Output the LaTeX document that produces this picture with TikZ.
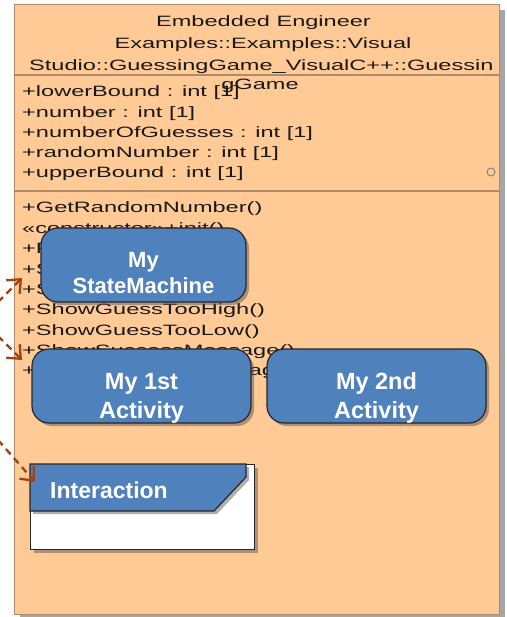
\documentclass[tikz,border=0pt]{standalone}
\usepackage{fontspec}
\setmainfont{Liberation Sans}
\newfontfamily\clsfont[FakeStretch=1.57]{Liberation Sans}
\usetikzlibrary{arrows.meta,shadows}
\definecolor{peach}{HTML}{FFCA96}
\definecolor{peachline}{HTML}{B08A66}
\definecolor{nodeblue}{HTML}{4F81BD}
\definecolor{rust}{HTML}{A3420F}
\begin{document}
\begin{tikzpicture}[x=1pt,y=-1pt,
  clstext/.style={anchor=base west, inner sep=0pt, font=\clsfont\fontsize{15}{18}\selectfont, text=black!90},
  hdrtext/.style={anchor=base, inner sep=0pt, font=\clsfont\fontsize{15}{18}\selectfont, text=black!90},
  sepline/.style={draw=peachline, line width=1.3pt},
  bshadow/.style={drop shadow={shadow xshift=3pt, shadow yshift=-3pt, opacity=0.45, fill=black!70}},
  bluebox/.style={draw=black!85, line width=1.2pt, fill=nodeblue, rounded corners=17pt, bshadow, inner sep=0pt},
  smtext/.style={text=white, font=\bfseries\fontsize{22}{26}\selectfont, align=center, inner sep=0pt},
  acttext/.style={text=white, font=\bfseries\fontsize{23.5}{29}\selectfont, align=center, inner sep=0pt},
  dep/.style={draw=rust, line width=2.3pt, dash pattern=on 7pt off 5pt, -{Straight Barb[length=11pt,width=19pt,line width=2.3pt]}}
]
\useasboundingbox (0,0) rectangle (506,617);
% class shadow
\fill[black!35] (20,10) rectangle (505,620);
% class box
\node (cls) [draw=peachline, line width=1.3pt, fill=peach, minimum width=485pt, minimum height=610pt, inner sep=0pt, anchor=north west] at (14,4) {};
\draw[sepline] (14,75) -- (499,75);
\draw[sepline] (14,191) -- (499,191);
\begin{scope}
\clip (14,4) rectangle (499,614);
\node (h1) [hdrtext] at (263.5,27) {Embedded Engineer};
\node (h2) [hdrtext] at (263,49) {Examples::Examples::Visual};
\node (h3) [clstext] at (29,71) {Studio::GuessingGame\_VisualC++::Guessin};
\node (h4) [hdrtext] at (260,90) {gGame};
\end{scope}
% attributes
\node (at1) [clstext] at (22,97) {+lowerBound : int [1]};
\node (at2) [clstext] at (22,117.5) {+number : int [1]};
\node (at3) [clstext] at (22,138) {+numberOfGuesses : int [1]};
\node (at4) [clstext] at (22,158) {+randomNumber : int [1]};
\node (at5) [clstext] at (22,178) {+upperBound : int [1]};
\node (port) [draw=gray, line width=0.9pt, circle, inner sep=0pt, minimum size=8pt] at (491,172) {};
% operations
\node (op1) [clstext] at (22,213) {+GetRandomNumber()};
\node (op2) [clstext] at (22,233.5) {«constructor»+init()};
\node (op3) [clstext] at (22,254) {+PlayGame()};
\node (op4) [clstext] at (22,274) {+ShowGameOver()};
\node (op5) [clstext] at (22,294.5) {+ShowGuessCount()};
\node (op6) [clstext] at (22,314.5) {+ShowGuessTooHigh()};
\node (op7) [clstext] at (22,335) {+ShowGuessTooLow()};
\node (op8) [clstext] at (22,355) {+ShowSuccessMessage()};
\node (op9) [clstext] at (22,375) {+ShowWelcomeMessage()};
% blue nodes
\node (sm) [bluebox, minimum width=205pt, minimum height=74pt] at (143.5,265) {};
\node (smlabel) [smtext] at ([yshift=-8pt]sm.center) {My\\StateMachine};
\node (a1) [bluebox, minimum width=219pt, minimum height=74pt] at (141.5,386) {};
\node (a1label) [acttext] at ([yshift=-12pt]a1.center) {My 1st\\Activity};
\node (a2) [bluebox, minimum width=219pt, minimum height=74pt] at (376.5,386) {};
\node (a2label) [acttext] at ([yshift=-12pt]a2.center) {My 2nd\\Activity};
% interaction frame
\node (intr) [draw=black!85, line width=1.2pt, fill=white, minimum width=224pt, minimum height=85pt, anchor=north west, inner sep=0pt, bshadow] at (30,464) {};
\draw[fill=nodeblue, draw=black!85, line width=1.2pt, bshadow] (intr.north west) -- ++(216,0) -- ++(0,13) -- ++(-32,34) -- ++(-184,0) -- cycle;
\node (intrlabel) [text=white, font=\bfseries\fontsize{23}{28}\selectfont, inner sep=0pt, anchor=base west] at (50,498) {Interaction};
% dependencies
\coordinate (d1s) at (-2,302);
\coordinate (d1e) at (22,278);
\coordinate (d2s) at (-2,336);
\coordinate (d2e) at (22,360);
\coordinate (d3s) at (-2,440);
\coordinate (d3e) at (35,482);
\draw[dep] (d1s) -- (d1e);
\draw[dep] (d2s) -- (d2e);
\draw[dep] (d3s) -- (d3e);
\end{tikzpicture}
\end{document}
